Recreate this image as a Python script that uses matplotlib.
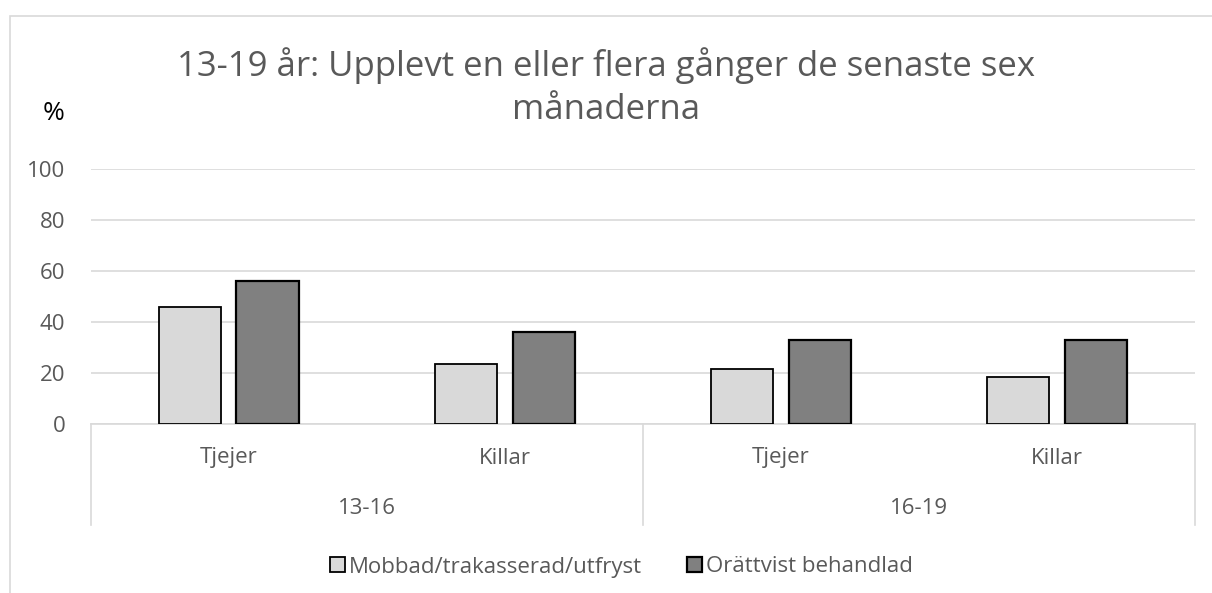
import matplotlib
matplotlib.use("Agg")
import matplotlib.pyplot as plt
from matplotlib.patches import Rectangle
from matplotlib.transforms import blended_transform_factory
import numpy as np

categories = ["Tjejer", "Killar", "Tjejer", "Killar"]
groups = ["13-16", "16-19"]
series_names = ["Mobbad/trakasserad/utfryst", "Orättvist behandlad"]
mobbad = [46, 23.5, 21.5, 18.5]
orattvist = [56, 36, 33, 33]
yticks = [0, 20, 40, 60, 80, 100]
title = "13-19 år: Upplevt en eller flera gånger de senaste sex\nmånaderna"

plt.rcParams['font.family'] = ['Open Sans', 'DejaVu Sans']
W, H = 1212, 593
fig = plt.figure(figsize=(W / 100, H / 100), dpi=100)

# outer chart border
fig.patches.append(Rectangle((9.5 / W, -0.1), 1.2, (593 - 16) / H + 0.1,
                             transform=fig.transFigure, fill=False,
                             edgecolor='#d9d9d9', linewidth=1.2))

left, right, top, bottom = 90.5, 1195, 169, 424
ax = fig.add_axes([left / W, (H - bottom) / H, (right - left) / W, (bottom - top) / H])

x = np.arange(len(categories))
bw = 0.225
off = 0.141
ax.bar(x - off, mobbad, bw, color='#d9d9d9', edgecolor='black', linewidth=1.3,
       label=series_names[0], zorder=3)
ax.bar(x + off, orattvist, bw, color='#808080', edgecolor='black', linewidth=1.6,
       label=series_names[1], zorder=3)

ax.set_xlim(-0.5, len(categories) - 0.5)
ax.set_ylim(0, 100)
ax.set_yticks(yticks)
ax.yaxis.grid(True, color='#d9d9d9', linewidth=1.2, zorder=0)
ax.set_axisbelow(True)
for s in ['top', 'right', 'left']:
    ax.spines[s].set_visible(False)
ax.spines['bottom'].set_color('#d9d9d9')
ax.spines['bottom'].set_linewidth(1.2)
ax.tick_params(axis='y', length=0, labelsize=16, labelcolor='#595959', pad=18)
ax.tick_params(axis='x', length=0, labelbottom=False)

trans = blended_transform_factory(ax.transData, ax.transAxes)
axh = bottom - top
for xb in [-0.5, 1.5, 3.5]:
    ax.plot([xb, xb], [0, -101 / axh], transform=trans, color='#d9d9d9',
            linewidth=1.2, clip_on=False)
for xi, c in zip(x, categories):
    ax.text(xi, -34 / axh, c, transform=trans, ha='center', va='center',
            fontsize=16, color='#595959')
for gi, g in enumerate(groups):
    ax.text(gi * 2 + 0.5, -85 / axh, g, transform=trans, ha='center', va='center',
            fontsize=16, color='#595959')

fig.text(606 / W, 1 - 87 / H, title, ha='center', va='center', fontsize=25,
         color='#595959', linespacing=1.35)
fig.text(54 / W, 1 - 114 / H, "%", ha='center', va='center', fontsize=19, color='black')

leg = fig.legend(loc='center', bbox_to_anchor=(621.5 / W, 1 - 567 / H), ncol=2,
                 frameon=False, fontsize=16, handlelength=0.68, handleheight=0.68,
                 handletextpad=0.2, columnspacing=2.0, borderpad=0.2)
for t in leg.get_texts():
    t.set_color('#595959')

fig.savefig("out.png", dpi=100)
